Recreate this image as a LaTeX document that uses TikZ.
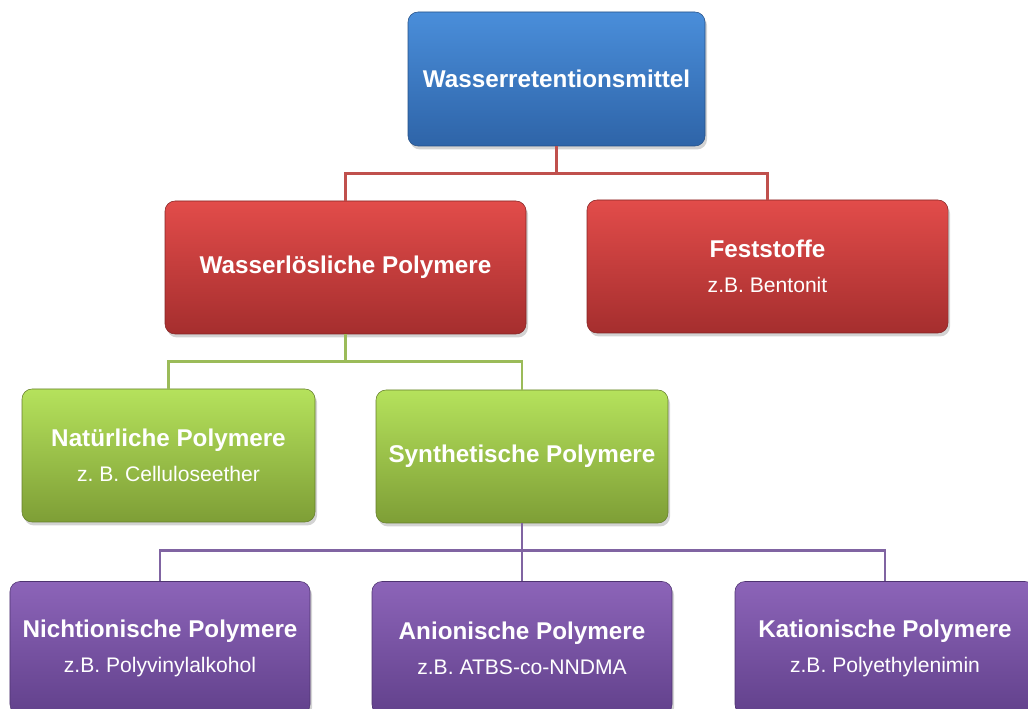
\documentclass[tikz,border=0pt]{standalone}
\usepackage{fontspec}
\setmainfont{Liberation Sans}
\usetikzlibrary{calc}
\usetikzlibrary{positioning}
\usetikzlibrary{shadows}
\frenchspacing

\definecolor{blueTop}{HTML}{4A8EDA}
\definecolor{blueBot}{HTML}{2E64A8}
\definecolor{redTop}{HTML}{E24C4A}
\definecolor{redBot}{HTML}{A52E2E}
\definecolor{greenTop}{HTML}{B5E25C}
\definecolor{greenBot}{HTML}{7E9E36}
\definecolor{purpleTop}{HTML}{8C64B8}
\definecolor{purpleBot}{HTML}{62418C}
\definecolor{redLine}{HTML}{C0504D}
\definecolor{greenLine}{HTML}{9BBB59}
\definecolor{purpleLine}{HTML}{8064A2}

\begin{document}
\begin{tikzpicture}
	[
	scale=1, every node/.style={scale=1},
  box/.style = {rounded corners=0.2cm, minimum height=2.66cm, align=center,
    text=white, font=\fontsize{13.8}{16}\selectfont\bfseries,
    drop shadow={opacity=0.35, shadow xshift=0.04cm, shadow yshift=-0.07cm}},
  bluebox/.style = {box, top color=blueTop, bottom color=blueBot, draw=blueBot!80!black, line width=0.3pt},
  redbox/.style = {box, top color=redTop, bottom color=redBot, draw=redBot!80!black, line width=0.3pt},
  greenbox/.style = {box, top color=greenTop, bottom color=greenBot, draw=greenBot!80!black, line width=0.3pt},
  purplebox/.style = {box, top color=purpleTop, bottom color=purpleBot, draw=purpleBot!80!black, line width=0.3pt},
  link/.style = {line width=1.6pt}
  ]
	\useasboundingbox (0,0) rectangle (20.56,14.18);
	\clip (0,0) rectangle (20.56,14.18);

	\newcommand{\bsp}[1]{\\[4pt]{\fontsize{12}{14}\selectfont\mdseries #1}}

	\node[bluebox, minimum width=5.94cm, minimum height=2.68cm] (wrm) at (11.13,12.6) {Wasserretentionsmittel};

	\node[redbox, minimum width=7.22cm] (wlp) at (6.91,8.83) {Wasserlösliche Polymere};
	\node[redbox, minimum width=7.22cm] (fst) at (15.35,8.85) {Feststoffe\bsp{z.B. Bentonit}};

	\node[greenbox, minimum width=5.86cm] (nat) at (3.37,5.07) {Natürliche Polymere\bsp{z. B. Celluloseether}};
	\node[greenbox, minimum width=5.84cm] (syn) at (10.44,5.05) {Synthetische Polymere};

	\node[purplebox, minimum width=6.0cm] (nio) at (3.2,1.22) {Nichtionische Polymere\bsp{z.B. Polyvinylalkohol}};
	\node[purplebox, minimum width=6.0cm] (ani) at (10.44,1.22) {Anionische Polymere\bsp{z.B. ATBS-co-NNDMA}};
	\node[purplebox, minimum width=6.0cm] (kat) at (17.7,1.22) {Kationische Polymere\bsp{z.B. Polyethylenimin}};

	% connectors
	\coordinate (r) at ($(wrm.south)+(0,-0.54)$);
	\coordinate (g) at ($(wlp.south)+(0,-0.54)$);
	\coordinate (p) at ($(syn.south)+(0,-0.54)$);

	\draw[link, redLine] (wrm.south) -- (r) -| (wlp.north);
	\draw[link, redLine] (r) -| (fst.north);
	\draw[link, greenLine] (wlp.south) -- (g) -| (nat.north);
	\draw[link, greenLine] (g) -| (syn.north);
	\draw[link, purpleLine] (syn.south) -- (p) -| (nio.north);
	\draw[link, purpleLine] (p) -- (ani.north);
	\draw[link, purpleLine] (p) -| (kat.north);

\end{tikzpicture}
\end{document}
